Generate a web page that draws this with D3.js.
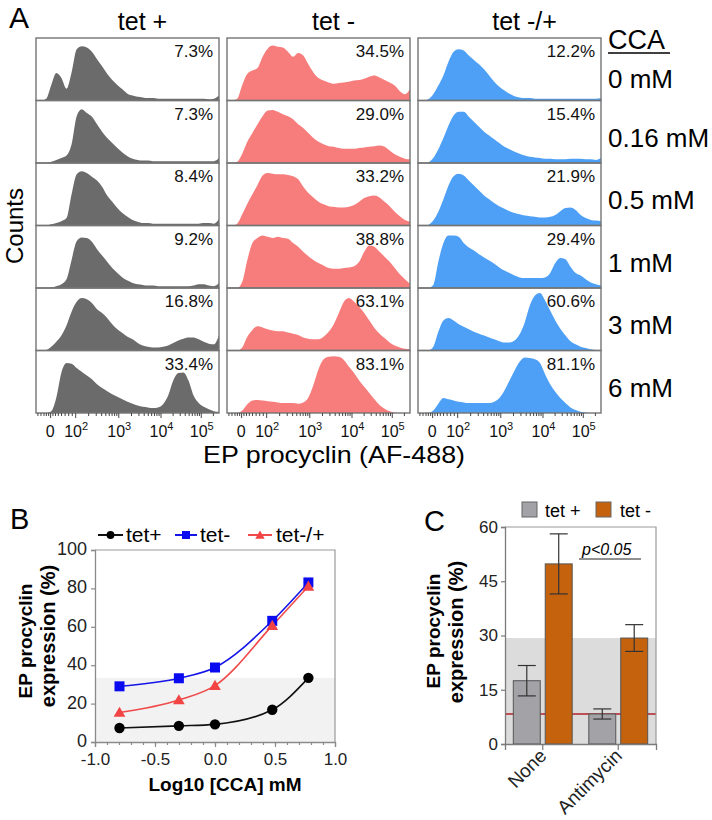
<!DOCTYPE html>
<html><head><meta charset="utf-8">
<script src="https://cdn.jsdelivr.net/npm/d3@7"></script>
<style>body{margin:0;background:#fff;} svg{display:block;font-family:Arial,"Liberation Sans",Helvetica,sans-serif;}</style>
</head><body><svg id="c" width="712" height="820"></svg>
<script>
// ---------- Panel A data ----------
const conditions = ["tet +", "tet -", "tet -/+"];
const doseLabels = ["0 mM", "0.16 mM", "0.5 mM", "1 mM", "3 mM", "6 mM"];
const pctTetPlus = ["7.3%", "7.3%", "8.4%", "9.2%", "16.8%", "33.4%"];
const pctTetMinus = ["34.5%", "29.0%", "33.2%", "38.8%", "63.1%", "83.1%"];
const pctTetMinusPlus = ["12.2%", "15.4%", "21.9%", "29.4%", "60.6%", "81.1%"];
// histogram counts (% of max axis) sampled at 37 evenly spaced display channels (0..1023)
const histTetPlus = [
 [0,0,3,25,44,36,19,45,82,87,85,78,66,55,43,33,25,18,11,8,6,5,4,4,3,3,3,3,3,3,3,3,3,3,2,3,8],
 [0,0,0,2,5,8,12,30,75,86,80,74,62,50,40,32,24,17,11,7,5,4,4,3,3,3,3,3,3,3,3,3,3,3,3,3,8],
 [0,0,0,2,4,7,12,50,82,87,84,78,72,62,48,38,28,20,14,9,6,4,4,3,3,3,3,3,3,3,3,3,3,4,4,3,10],
 [0,0,0,1,3,6,14,45,75,81,80,74,62,52,42,32,24,17,12,8,6,5,4,4,3,3,3,3,3,3,3,4,6,6,4,3,8],
 [0,0,1,6,14,24,40,62,78,84,82,76,66,60,52,42,34,28,22,18,12,8,6,5,5,6,8,12,16,19,21,21,18,14,11,10,25],
 [0,0,0,3,25,65,80,79,72,66,60,54,46,40,35,30,26,22,18,15,12,10,9,8,9,14,28,52,64,65,52,28,16,10,6,3,2]
];
const histTetMinus = [
 [0,0,3,25,43,48,52,70,83,88,86,85,78,70,76,72,58,45,36,32,29,27,28,29,30,32,33,35,38,40,37,33,29,24,15,10,18],
 [0,0,2,15,34,48,62,75,84,85,82,78,75,70,62,56,48,40,34,30,27,26,24,23,23,23,24,25,26,27,28,26,20,14,10,7,6],
 [0,0,3,18,35,50,65,80,84,83,82,82,81,79,74,62,52,45,38,34,31,30,29,29,30,33,38,44,47,48,45,38,31,22,15,9,6],
 [0,0,0,10,45,72,80,84,82,80,82,80,79,72,66,58,51,45,40,36,32,31,31,32,33,35,42,58,68,66,58,50,42,32,22,14,7],
 [0,0,0,5,22,33,39,37,34,32,31,31,29,27,25,21,19,18,18,22,30,42,60,78,84,78,70,60,48,36,27,20,13,8,5,3,2],
 [0,0,0,4,14,20,21,20,19,18,17,16,16,16,15,17,25,45,70,86,90,91,90,85,74,64,52,42,32,22,13,7,3,1,0,0,0]
];
const histTetMinusPlus = [
 [0,0,2,10,24,40,62,78,82,80,72,65,58,50,40,30,22,16,11,7,5,4,4,3,3,3,3,3,3,3,3,3,3,3,3,3,4],
 [0,0,1,8,22,40,60,76,82,82,74,66,58,50,44,38,32,26,22,18,15,12,10,9,8,7,7,6,6,6,7,7,7,6,6,5,8],
 [0,0,1,8,22,42,64,79,83,80,72,64,56,48,42,36,31,27,23,20,18,16,15,14,13,13,14,17,23,28,29,25,17,12,9,8,7],
 [0,0,0,5,42,72,84,84,82,72,65,60,54,49,44,39,33,28,24,20,17,16,16,16,16,17,24,40,48,46,34,24,20,14,9,6,4],
 [0,0,0,6,30,48,52,48,42,38,34,30,27,24,21,18,15,13,13,16,26,45,72,88,92,80,64,48,35,24,15,10,6,4,2,1,1],
 [0,0,0,4,15,24,22,20,18,17,16,16,16,16,16,18,24,36,52,68,82,89,88,86,80,62,46,34,24,16,9,5,2,1,0,0,0]
];
// display-channel positions of the biexponential axis labels
const histTickChannels = [79, 219, 460, 696, 921];
const histTickBase = ["0", "10", "10", "10", "10"];
const histTickExp = ["", "2", "3", "4", "5"];

// ---------- Panel B data ----------
const ccaDoses = [0.16, 0.5, 1, 3, 6];
const bTetPlus = [7.3, 8.4, 9.2, 16.8, 33.4];
const bTetMinus = [29.0, 33.2, 38.8, 63.1, 83.1];
const bTetMinusPlus = [15.4, 21.9, 29.4, 60.6, 81.1];
const bSeriesNames = ["tet+", "tet-", "tet-/+"];

// ---------- Panel C data ----------
const cGroups = ["None", "Antimycin"];
const cSeries = ["tet +", "tet -"];
const cTetPlusMean = [17.5, 8.3];
const cTetPlusErr = [4.2, 1.4];
const cTetMinusMean = [49.8, 29.3];
const cTetMinusErr = [8.3, 3.7];

const svg = d3.select("#c");

// ================= Panel A =================
const colX0 = [36, 227, 418], colW = 183, topY = 38, rowH = 62.5, nRows = 6;
const histFill = ["#6b6b6b", "#f77d7d", "#4da0f5"];
const hists = [histTetPlus, histTetMinus, histTetMinusPlus];
const pcts = [pctTetPlus, pctTetMinus, pctTetMinusPlus];
const bottomY = topY + nRows * rowH;

svg.append("text").attr("x", 9).attr("y", 28).attr("font-size", 30).text("A");

conditions.forEach((cond, c) => {
  const x = d3.scaleLinear().domain([0, 1023]).range([colX0[c], colX0[c] + colW]);
  svg.append("text").attr("x", colX0[c] + colW / 2 + 15).attr("y", 30)
    .attr("text-anchor", "middle").attr("font-size", 25).text(cond);
  hists[c].forEach((vals, r) => {
    const y = d3.scaleLinear().domain([0, 100]).range([topY + (r + 1) * rowH, topY + r * rowH]);
    const area = d3.area()
      .x((d, i) => x(i * 1023 / (vals.length - 1)))
      .y0(y(0)).y1(d => y(d))
      .curve(d3.curveMonotoneX);
    svg.append("path").attr("d", area(vals)).attr("fill", histFill[c]);
    svg.append("rect").attr("x", colX0[c]).attr("y", topY + r * rowH)
      .attr("width", colW).attr("height", rowH)
      .attr("fill", "none").attr("stroke", "#747474").attr("stroke-width", 1.4);
    svg.append("text").attr("x", colX0[c] + colW - 6).attr("y", topY + r * rowH + 19)
      .attr("text-anchor", "end").attr("font-size", 17).attr("fill", "#111").text(pcts[c][r]);
  });
  // axis ticks
  const minor = [8, 25, 42, 55, 68, 92, 106, 122, 140, 160, 180, 200];
  for (let k = 1; k < histTickChannels.length; k++) {
    const a = histTickChannels[k], b = k + 1 < histTickChannels.length ? histTickChannels[k + 1] : a + (a - histTickChannels[k - 1]);
    for (let m = 2; m <= 9; m++) {
      const p = a + Math.log10(m) * (b - a);
      if (p < 1020) minor.push(p);
    }
  }
  const axMinor = d3.axisBottom(x).tickValues(minor).tickSize(3).tickFormat("");
  const axMajor = d3.axisBottom(x).tickValues(histTickChannels).tickSize(5).tickFormat("");
  [axMinor, axMajor].forEach(ax => {
    const g = svg.append("g").attr("transform", `translate(0,${bottomY})`).call(ax);
    g.select(".domain").remove();
    g.selectAll("line").attr("stroke", "#444").attr("stroke-width", 1);
  });
  histTickChannels.forEach((ch, i) => {
    const t = svg.append("text").attr("x", x(ch) + (i === 0 ? 0 : 1)).attr("y", bottomY + 24)
      .attr("text-anchor", "middle").attr("font-size", 16).attr("fill", "#111");
    t.append("tspan").text(histTickBase[i]);
    if (histTickExp[i]) t.append("tspan").attr("dy", -7).attr("font-size", 11).text(histTickExp[i]);
  });
});

// right side labels
svg.append("text").attr("x", 608).attr("y", 49).attr("font-size", 27).text("CCA");
svg.append("line").attr("x1", 608).attr("x2", 670).attr("y1", 53).attr("y2", 53)
  .attr("stroke", "#000").attr("stroke-width", 1.5);
doseLabels.forEach((d, r) => {
  svg.append("text").attr("x", 608).attr("y", topY + r * rowH + (r === 0 ? 50 : 46))
    .attr("font-size", 26).text(d);
});
svg.append("text").attr("transform", "translate(23,226) rotate(-90)")
  .attr("text-anchor", "middle").attr("font-size", 24).text("Counts");
svg.append("text").attr("x", 334).attr("y", 463).attr("text-anchor", "middle")
  .attr("font-size", 24).attr("textLength", 262).attr("lengthAdjust", "spacingAndGlyphs")
  .text("EP procyclin (AF-488)");

// ================= Panel B =================
svg.append("text").attr("x", 10).attr("y", 529).attr("font-size", 29).text("B");
const xB = d3.scaleLinear().domain([-1, 1]).range([95, 335]);
const yB = d3.scaleLinear().domain([0, 100]).range([742, 550]);
svg.append("rect").attr("x", xB(-1)).attr("y", yB(bTetPlus[4])).attr("width", xB(1) - xB(-1))
  .attr("height", yB(0) - yB(bTetPlus[4])).attr("fill", "#f2f2f2");
svg.append("path").attr("d", `M${xB(-1)},${yB(100)}H${xB(1)}V${yB(0)}`).attr("fill", "none")
  .attr("stroke", "#9a9a9a").attr("stroke-width", 1.2);
const gyB = svg.append("g").attr("transform", `translate(${xB(-1)},0)`)
  .call(d3.axisLeft(yB).tickValues([0, 20, 40, 60, 80, 100]).tickSize(4).tickPadding(4));
const gxB = svg.append("g").attr("transform", `translate(0,${yB(0)})`)
  .call(d3.axisBottom(xB).tickValues([-1, -0.5, 0, 0.5, 1]).tickSize(5).tickPadding(7).tickFormat(d3.format(".1f")));
const gxBm = svg.append("g").attr("transform", `translate(0,${yB(0)})`)
  .call(d3.axisBottom(xB).tickValues(d3.range(-0.9, 1.0, 0.1)).tickSize(3).tickFormat(""));
gxBm.select(".domain").remove();
[gyB, gxB, gxBm].forEach(g => {
  g.selectAll(".domain").attr("stroke", "#8a8a8a").attr("stroke-width", 1.3);
  g.selectAll("line").attr("stroke", "#8a8a8a").attr("stroke-width", 1.2);
  g.selectAll("text").attr("font-size", 18).attr("fill", "#222").attr("font-family", "Arial, 'Liberation Sans', sans-serif");
});
gyB.selectAll("text").attr("dy", "0.25em");
gxB.selectAll("text").attr("font-size", 17).attr("dy", "0.62em").text(d => d === 0 ? "0.0" : d3.format(".1f")(d).replace("−", "-"));

const bData = [bTetPlus, bTetMinus, bTetMinusPlus];
const bLine = ["#111111", "#1515e8", "#f04a4a"];
const bMark = ["#000000", "#0a0af0", "#f24444"];
const lineGen = d3.line().x(d => xB(Math.log10(d[0]))).y(d => yB(d[1])).curve(d3.curveMonotoneX);
function marker(g, k, cx, cy, s) {
  if (k === 0) g.append("circle").attr("cx", cx).attr("cy", cy).attr("r", 5.2 * s).attr("fill", bMark[0]);
  else if (k === 1) g.append("rect").attr("x", cx - 5 * s).attr("y", cy - 5 * s).attr("width", 10 * s).attr("height", 10 * s).attr("fill", bMark[1]);
  else g.append("path").attr("d", d3.symbol(d3.symbolTriangle, 60 * s * s)()).attr("transform", `translate(${cx},${cy + 1})`).attr("fill", bMark[2]);
}
bData.forEach((vals, k) => {
  const pts = ccaDoses.map((d, i) => [d, vals[i]]);
  svg.append("path").attr("d", lineGen(pts)).attr("fill", "none").attr("stroke", bLine[k]).attr("stroke-width", 1.6);
});
bData.forEach((vals, k) => {
  const g = svg.append("g");
  ccaDoses.forEach((d, i) => marker(g, k, xB(Math.log10(d)), yB(vals[i]), 1));
});
// legend B
const legB = [{x1: 98, x2: 123, tx: 126}, {x1: 175, x2: 197, tx: 200}, {x1: 248, x2: 272, tx: 276}];
legB.forEach((p, k) => {
  svg.append("line").attr("x1", p.x1).attr("x2", p.x2).attr("y1", 535).attr("y2", 535)
    .attr("stroke", bLine[k]).attr("stroke-width", 2);
  marker(svg.append("g"), k, (p.x1 + p.x2) / 2, 535, k === 0 ? 0.75 : 0.8);
  svg.append("text").attr("x", p.tx).attr("y", 542).attr("font-size", 21).text(bSeriesNames[k]);
});
svg.append("text").attr("transform", "translate(32,641) rotate(-90)").attr("text-anchor", "middle")
  .attr("font-size", 19).attr("font-weight", "bold").text("EP procyclin");
svg.append("text").attr("transform", "translate(55,636) rotate(-90)").attr("text-anchor", "middle")
  .attr("font-size", 20).attr("font-weight", "bold").text("expression (%)");
svg.append("text").attr("x", 225).attr("y", 791).attr("text-anchor", "middle")
  .attr("font-size", 19).attr("font-weight", "bold").text("Log10 [CCA] mM");

// ================= Panel C =================
svg.append("text").attr("x", 424).attr("y", 531).attr("font-size", 29).text("C");
const xC = d3.scaleBand().domain(cGroups).range([505, 656]);
const xSub = d3.scaleBand().domain(cSeries).range([0, xC.bandwidth()]).paddingInner(0.156).paddingOuter(0.26);
const yC = d3.scaleLinear().domain([0, 60]).range([744, 527]);
const cFill = ["#a2a2a7", "#c4620e"];
svg.append("rect").attr("x", 505).attr("y", yC(cTetMinusMean[1])).attr("width", 151)
  .attr("height", yC(0) - yC(cTetMinusMean[1])).attr("fill", "#dcdcdc");
svg.append("line").attr("x1", 505).attr("x2", 656).attr("y1", yC(cTetPlusMean[1])).attr("y2", yC(cTetPlusMean[1]))
  .attr("stroke", "#b3202b").attr("stroke-width", 1.6);
const cMeans = [cTetPlusMean, cTetMinusMean], cErrs = [cTetPlusErr, cTetMinusErr];
cGroups.forEach((grp, gi) => {
  cSeries.forEach((s, si) => {
    const m = cMeans[si][gi], e = cErrs[si][gi];
    const bx = xC(grp) + xSub(s), bw = xSub.bandwidth(), cx = bx + bw / 2;
    svg.append("rect").attr("x", bx).attr("y", yC(m)).attr("width", bw).attr("height", yC(0) - yC(m))
      .attr("fill", cFill[si]).attr("stroke", "#555").attr("stroke-width", 1);
    const eg = svg.append("g").attr("stroke", "#333").attr("stroke-width", 1.2);
    eg.append("line").attr("x1", cx).attr("x2", cx).attr("y1", yC(m + e)).attr("y2", yC(m - e));
    eg.append("line").attr("x1", cx - 9).attr("x2", cx + 9).attr("y1", yC(m + e)).attr("y2", yC(m + e));
    eg.append("line").attr("x1", cx - 9).attr("x2", cx + 9).attr("y1", yC(m - e)).attr("y2", yC(m - e));
  });
});
svg.append("path").attr("d", `M505,${yC(60)}H656V${yC(0)}`).attr("fill", "none")
  .attr("stroke", "#9a9a9a").attr("stroke-width", 1.2);
const gyC = svg.append("g").attr("transform", "translate(505,0)")
  .call(d3.axisLeft(yC).tickValues([0, 15, 30, 45, 60]).tickSize(4).tickPadding(3));
const gxC = svg.append("g").attr("transform", `translate(0,${yC(0)})`)
  .call(d3.axisBottom(xC).tickSize(6).tickFormat(""));
[gyC, gxC].forEach(g => {
  g.selectAll(".domain").attr("stroke", "#7a7a7a").attr("stroke-width", 1.3);
  g.selectAll("line").attr("stroke", "#7a7a7a").attr("stroke-width", 1.2);
  g.selectAll("text").attr("font-size", 17).attr("fill", "#222").attr("font-family", "Arial, 'Liberation Sans', sans-serif");
});
cGroups.forEach(grp => {
  svg.append("text").attr("transform", `translate(${xC(grp) + xC.bandwidth() / 2 + 5},757) rotate(-45)`)
    .attr("text-anchor", "end").attr("font-size", 19).attr("fill", "#222").text(grp);
});
svg.append("text").attr("x", 582).attr("y", 555).attr("font-size", 16).attr("font-style", "italic").text("p<0.05");
svg.append("line").attr("x1", 579).attr("x2", 641).attr("y1", 559).attr("y2", 559).attr("stroke", "#222").attr("stroke-width", 1);
// legend C
const legCx = [522, 596], legTx = [545, 620];
cSeries.forEach((s, si) => {
  svg.append("rect").attr("x", legCx[si]).attr("y", 502).attr("width", 15).attr("height", 15)
    .attr("fill", cFill[si]).attr("stroke", "#666").attr("stroke-width", 1);
  svg.append("text").attr("x", legTx[si]).attr("y", 517).attr("font-size", 18).text(s);
});
svg.append("text").attr("transform", "translate(440,631) rotate(-90)").attr("text-anchor", "middle")
  .attr("font-size", 19).attr("font-weight", "bold").text("EP procyclin");
svg.append("text").attr("transform", "translate(463,632) rotate(-90)").attr("text-anchor", "middle")
  .attr("font-size", 20).attr("font-weight", "bold").text("expression (%)");
</script>
</body></html>
